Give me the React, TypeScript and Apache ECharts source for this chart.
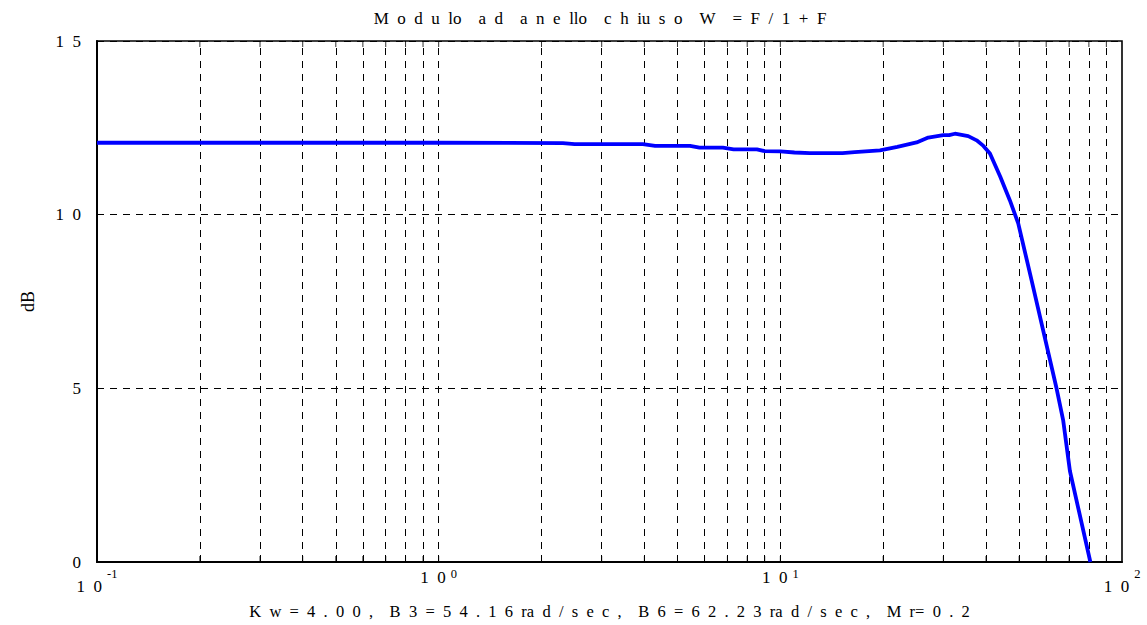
import React, { useEffect, useRef } from 'react';
import * as echarts from 'echarts';

// Closed-loop magnitude response |W(jw)| in dB, W = F / (1 + F)
const freq = [
  0.1, 1.0, 2.31, 2.5, 3.96, 4.3, 5.44, 5.8, 6.79, 7.3, 8.54, 9.0, 10.0, 11.0,
  12.2, 15.2, 16.5, 19.57, 22.0, 25.05, 27.1, 29.98, 31.2, 32.43, 35.48, 37.54,
  39.3, 41.07, 44.0, 46.98, 49.69, 54.4, 64.4, 67.3, 70.4, 80.8,
];
const magDb = [
  12.07, 12.07, 12.06, 12.03, 12.03, 11.98, 11.98, 11.93, 11.93, 11.88, 11.88,
  11.83, 11.82, 11.79, 11.77, 11.77, 11.8, 11.85, 11.95, 12.08, 12.22, 12.29,
  12.29, 12.33, 12.26, 12.14, 11.98, 11.76, 11.1, 10.41, 9.75, 8.1, 4.98, 4.07,
  2.62, 0.0,
];

// Log-decade grid positions (2..9 in each decade, plus the inner decades)
const gridFreqs = [
  0.2, 0.3, 0.4, 0.5, 0.6, 0.7, 0.8, 0.9, 1, 2, 3, 4, 5, 6, 7, 8, 9, 10, 20,
  30, 40, 50, 60, 70, 80, 90,
];
const xMin = 0.1;
const xMax = 100;
const yMin = 0;
const yMax = 15;
const yStep = 5;
// decade exponents whose mantissa sits lower under the axis
const lowDecadeExponents = [-1, 2];

// spaces are kept as written (non-breaking) so the letter-spaced look survives
const titleWords = [['M', 'o', 'd', 'u', 'lo'], ['a', 'd'], ['a', 'n', 'e', 'llo'], ['c', 'h', 'iu', 's', 'o'], ['W'], ['=', 'F', '/', '1', '+', 'F']];
const xAxisWords = [
  ['K', 'w', '=', '4', '.', '0', '0', ','],
  ['B', '3', '=', '5', '4', '.', '1', '6', 'ra', 'd', '/', 's', 'e', 'c', ','],
  ['B', '6', '=', '6', '2', '.', '2', '3', 'ra', 'd', '/', 's', 'e', 'c', ','],
  ['M', 'r=', '0', '.', '2'],
];
const yAxisTitle = 'dB';

const NB = '\u00a0';
const FONT = "'Liberation Serif', 'Times New Roman', serif";

const spreadWords = (words: string[][], letterGap: number, wordGap: number) =>
  words.map((w) => w.join(NB.repeat(letterGap))).join(NB.repeat(wordGap));
const spacedNumber = (v: number) => String(v).split('').join(NB + NB);

export default function App() {
  const ref = useRef<HTMLDivElement>(null);

  useEffect(() => {
    document.body.style.margin = '0';
    if (!ref.current) return;
    const chart = echarts.init(ref.current, undefined, { renderer: 'svg' });

    const curve = freq.map((f, i) => [f, magDb[i]]);
    const labelColor = '#000';

    chart.setOption({
      animation: false,
      backgroundColor: '#fff',
      title: {
        text: spreadWords(titleWords, 2, 4),
        left: 595,
        top: 5,
        textAlign: 'center',
        textStyle: { fontSize: 17, fontWeight: 'normal', fontFamily: FONT, color: labelColor },
      },
      grid: {
        left: 97,
        right: 25,
        top: 41,
        bottom: 63,
        show: true,
        borderColor: '#000',
        borderWidth: 1.6,
        backgroundColor: 'transparent',
        outerBoundsMode: 'none',
      },
      xAxis: {
        type: 'log',
        logBase: 10,
        min: xMin,
        max: xMax,
        name: spreadWords(xAxisWords, 2, 4),
        nameLocation: 'middle',
        nameGap: 41,
        nameTextStyle: { fontSize: 16.5, fontFamily: FONT, color: labelColor },
        axisLine: { show: true, onZero: false, lineStyle: { color: '#000', width: 2 } },
        axisTick: { show: false },
        splitLine: { show: false },
        axisLabel: {
          margin: 5,
          verticalAlign: 'top',
          formatter: (v: number) => {
            const e = Math.round(Math.log10(v));
            const main = lowDecadeExponents.includes(e) ? 'ml' : 'm';
            return `{${main}|1${NB}${NB}0}{s|${e}}`;
          },
          rich: {
            m: { fontSize: 17, fontFamily: FONT, color: labelColor, lineHeight: 17, verticalAlign: 'top', padding: [2, 0, 0, 0] },
            ml: { fontSize: 17, fontFamily: FONT, color: labelColor, lineHeight: 17, verticalAlign: 'top', padding: [10.5, 0, 0, 0] },
            s: { fontSize: 12.5, fontFamily: FONT, color: labelColor, lineHeight: 12.5, verticalAlign: 'top', padding: [0, 0, 15, 5] },
          },
        },
      },
      yAxis: {
        type: 'value',
        min: yMin,
        max: yMax,
        interval: yStep,
        name: yAxisTitle,
        nameLocation: 'middle',
        nameRotate: 90,
        nameGap: 60,
        nameTextStyle: { fontSize: 18, fontFamily: FONT, color: labelColor },
        axisLine: { show: true, lineStyle: { color: '#000', width: 2 } },
        axisTick: { show: true, inside: true, length: 5, lineStyle: { color: '#000' } },
        axisLabel: {
          margin: 16,
          fontSize: 17,
          fontFamily: FONT,
          color: labelColor,
          formatter: (v: number) => spacedNumber(v),
        },
        splitLine: { show: true, lineStyle: { color: '#000', width: 1, type: [7, 6] } },
      },
      series: [
        {
          // vertical dashed grid at every log subdivision
          type: 'line',
          data: [],
          silent: true,
          z: 1,
          markLine: {
            silent: true,
            symbol: ['none', 'none'],
            label: { show: false },
            lineStyle: { color: '#000', width: 1, type: [7, 6] },
            data: gridFreqs.map((f) => ({ xAxis: f })),
          },
        },
        {
          // inward tick marks on the bottom edge
          type: 'scatter',
          silent: true,
          z: 2,
          symbol: 'rect',
          symbolSize: [1, 6],
          symbolOffset: [0, -3],
          itemStyle: { color: '#000' },
          data: gridFreqs.map((f) => [f, yMin]),
        },
        {
          // inward tick marks on the top edge
          type: 'scatter',
          silent: true,
          z: 2,
          symbol: 'rect',
          symbolSize: [1, 6],
          symbolOffset: [0, 3],
          itemStyle: { color: '#000' },
          data: gridFreqs.map((f) => [f, yMax]),
        },
        {
          type: 'line',
          data: curve,
          z: 5,
          showSymbol: false,
          smooth: false,
          lineStyle: { color: '#0000ff', width: 3.8 },
        },
      ],
    });

    return () => chart.dispose();
  }, []);

  return <div ref={ref} style={{ width: 1147, height: 625 }} />;
}
